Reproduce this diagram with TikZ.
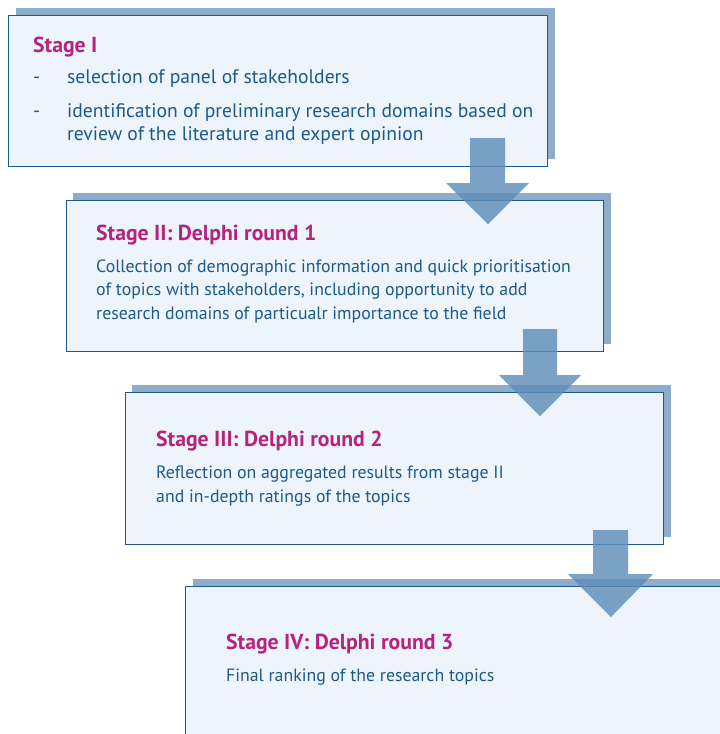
\documentclass[tikz,border=0pt]{standalone}
\usepackage{fontspec}
\setmainfont{PT Sans}
\definecolor{boxfill}{HTML}{EDF4FB}
\definecolor{boxline}{HTML}{1F5A8C}
\definecolor{shadowc}{HTML}{8EADCA}
\definecolor{arrowc}{HTML}{5F8DB9}
\definecolor{titlec}{HTML}{B5237F}
\definecolor{textc}{HTML}{1D5A8A}
\tikzset{
  stagebox/.style={draw=boxline, line width=1.4pt, fill=boxfill, inner sep=0pt, anchor=north west},
  ttl/.style={anchor=base west, inner sep=0pt, text=titlec, font=\fontsize{21.7}{24}\selectfont\bfseries},
  body/.style={anchor=base west, inner sep=0pt, text=textc, font=\fontsize{19.6}{22}\selectfont},
  bodysmall/.style={anchor=base west, inner sep=0pt, text=textc, font=\fontsize{17.8}{21}\selectfont},
  blockarrow/.style={fill=arrowc, fill opacity=0.82, draw=none}
}
\begin{document}
\begin{tikzpicture}[x=1pt,y=-1pt]
\useasboundingbox (0,0) rectangle (720,734);
% Stage I
\fill[shadowc] (16,8) rectangle (555,159);
\node[stagebox, minimum width=539pt, minimum height=151pt] (b1) at (8,15) {};
\node[ttl] (t1) at (33,52) {Stage I};
\node[body] (d1) at (33,83) {-};
\node[body] (l1) at (67,83) {selection of panel of stakeholders};
\node[body] (d2) at (33,117) {-};
\node[body] (l2) at (67,117) {identification of preliminary research domains based on};
\node[body] (l3) at (67,140) {review of the literature and expert opinion};
% Stage II
\fill[shadowc] (73,193) rectangle (611,344);
\node[stagebox, minimum width=537pt, minimum height=151pt] (b2) at (66,200) {};
\node[ttl] (t2) at (96,240) {Stage II: Delphi round 1};
\node[bodysmall] (m1) at (96,272) {Collection of demographic information and quick prioritisation};
\node[bodysmall] (m2) at (96,295.5) {of topics with stakeholders, including opportunity to add};
\node[bodysmall] (m3) at (96,319) {research domains of particualr importance to the field};
% Stage III
\fill[shadowc] (132,385) rectangle (671,537);
\node[stagebox, minimum width=538pt, minimum height=152pt] (b3) at (125,392) {};
\node[ttl] (t3) at (156,446) {Stage III: Delphi round 2};
\node[bodysmall] (n1) at (156,478) {Reflection on aggregated results from stage II};
\node[bodysmall] (n2) at (156,502) {and in-depth ratings of the topics};
% Stage IV
\fill[shadowc] (193,579) rectangle (730,745);
\node[stagebox, minimum width=560pt, minimum height=170pt] (b4) at (185,586) {};
\node[ttl] (t4) at (226,649) {Stage IV: Delphi round 3};
\node[bodysmall] (o1) at (226,681) {Final ranking of the research topics};
% arrows
\fill[blockarrow] (470,138) -- (505,138) -- (505,183) -- (529,183) -- (488,224) -- (446,183) -- (470,183) -- cycle;
\fill[blockarrow] (523,329) -- (557,329) -- (557,375) -- (581,375) -- (540,416) -- (499,375) -- (523,375) -- cycle;
\fill[blockarrow] (593,530) -- (628,530) -- (628,574) -- (653,574) -- (611,617) -- (568,574) -- (593,574) -- cycle;
\end{tikzpicture}
\end{document}
